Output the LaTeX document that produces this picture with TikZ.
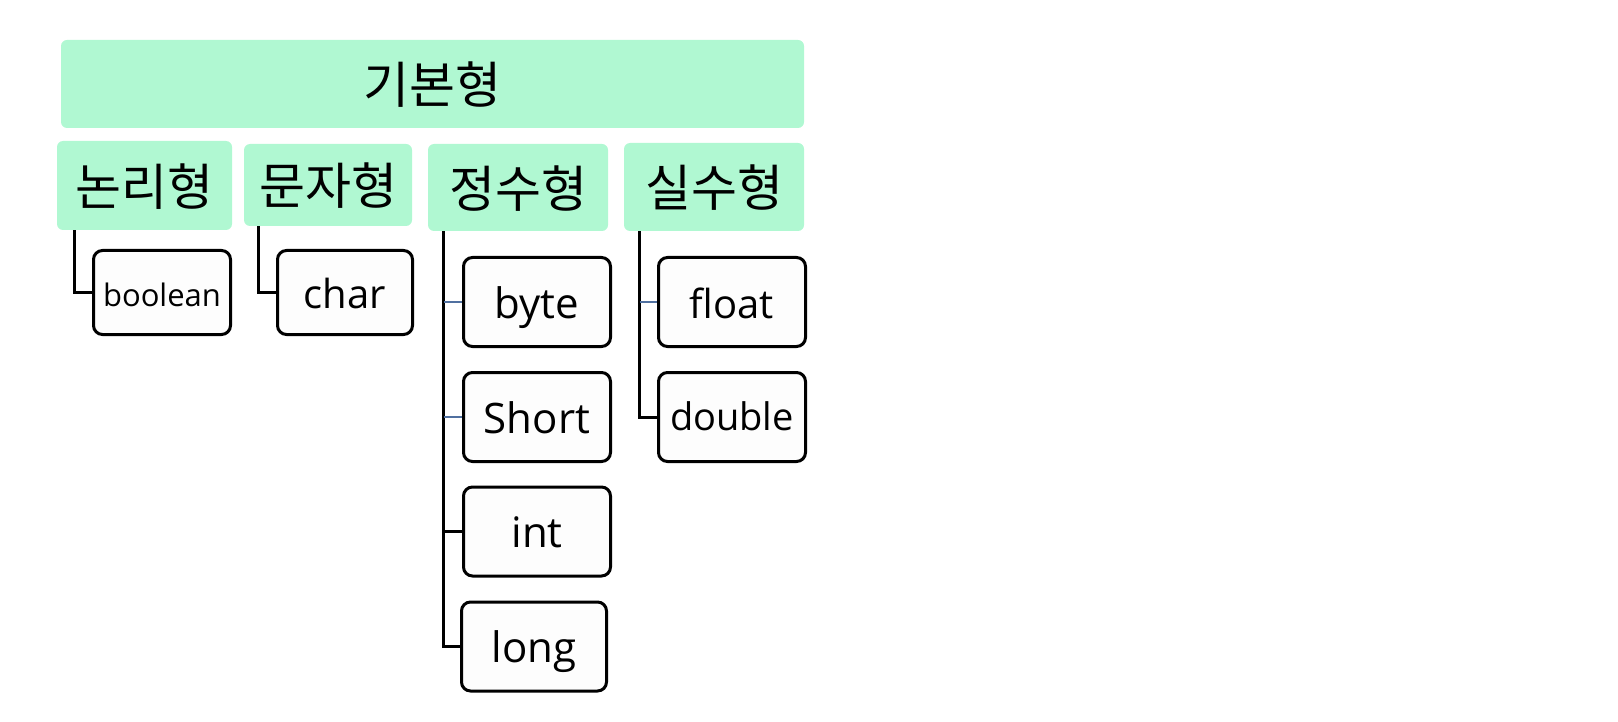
\documentclass[tikz,border=0pt]{standalone}
\usepackage{fontspec}
\setmainfont{Open Sans}
\newfontfamily\kr{Noto Sans CJK KR}
\usetikzlibrary{positioning,backgrounds}
\definecolor{mint}{HTML}{B0F8D2}
\definecolor{tickblue}{HTML}{5070A0}
\definecolor{leafw}{HTML}{FDFDFD}
\tikzset{
  cat/.style={fill=mint, rounded corners=6pt, inner sep=0pt, text height=46pt, text depth=6pt, font=\kr\fontsize{50}{54}\selectfont},
  leaf/.style={draw=black, fill=leafw, line width=3pt, rounded corners=9pt, inner sep=0pt, minimum width=147pt, minimum height=89pt, text height=40pt, text depth=8pt, font=\fontsize{42}{46}\selectfont},
  link/.style={line width=3pt, draw=black},
  tk/.style={line width=2.5pt, draw=tickblue},
}
\begin{document}
\begin{tikzpicture}[x=1pt, y=-1pt]
  \useasboundingbox (0,0) rectangle (1618,722);
  % top
  \node[cat, minimum width=743pt, minimum height=88pt] (basic) at (432.5,84) {기본형};
  % categories
  \node[cat, minimum width=175pt, minimum height=89pt] (logic) at (144.5,185.5) {논리형};
  \node[cat, minimum width=168pt, minimum height=82pt] (chars) at (328,185) {문자형};
  \node[cat, minimum width=180pt, minimum height=87pt] (ints) at (518,187.5) {정수형};
  \node[cat, minimum width=180pt, minimum height=88pt] (reals) at (714,187) {실수형};
  % leaves
  \node[leaf, minimum width=137pt, minimum height=84pt, text height=33pt, text depth=6pt, font=\fontsize{31}{36}\selectfont] (boolean) at (162,292.5) {boolean};
  \node[leaf, minimum width=135pt, minimum height=84pt, font=\fontsize{40}{44}\selectfont] (char) at (345,292.5) {char};
  \foreach \n/\y in {byte/302, Short/417, int/531.5}
     \node[leaf] (\n) at (537,\y) {\n};
  \node[leaf, minimum width=145pt] (long) at (534,646.5) {long};
  \node[leaf, font=\fontsize{40}{44}\selectfont] (float) at (732,302) {float};
  \node[leaf, text height=34pt, font=\fontsize{38}{42}\selectfont] (double) at (732,417) {double};
  % connectors
  \coordinate (lt) at ([xshift=18pt]logic.south west);
  \coordinate (ct) at ([xshift=15pt]chars.south west);
  \coordinate (it) at ([xshift=16pt]ints.south west);
  \coordinate (rt) at ([xshift=16pt]reals.south west);
  \begin{scope}[on background layer]
    \draw[link] (lt) |- (boolean.west);
    \draw[link] (ct) |- (char.west);
    \draw[link] (it) |- (long.west);
    \draw[link] (it |- int.west) -- (int.west);
    \draw[tk] (it |- byte.west) -- (byte.west);
    \draw[tk] (it |- Short.west) -- (Short.west);
    \draw[link] (rt) |- (double.west);
    \draw[tk] (rt |- float.west) -- (float.west);
  \end{scope}
\end{tikzpicture}
\end{document}
